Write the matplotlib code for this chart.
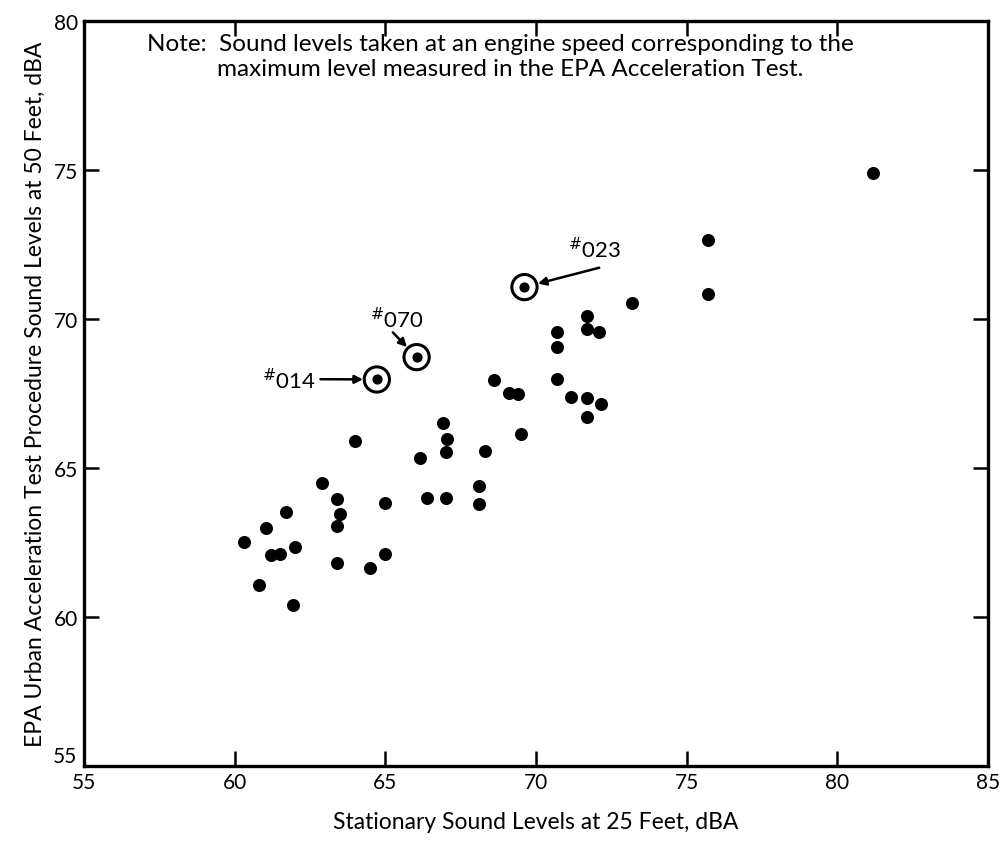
import matplotlib
matplotlib.use("Agg")
import matplotlib.pyplot as plt

plt.rcParams['font.family'] = ['Lato', 'DejaVu Sans']

# stationary level at 25 ft vs EPA urban acceleration level at 50 ft (dBA)
stationary = [81.2, 75.7, 75.7, 73.2, 71.7, 71.7, 72.1, 70.7, 70.7, 70.7,
              71.15, 71.7, 72.15, 71.7, 68.6, 69.1, 69.4, 69.5, 68.3, 68.1,
              68.1, 66.9, 67.05, 67.0, 66.15, 64.0, 62.9, 63.4, 63.5, 63.4,
              65.0, 66.4, 67.0, 61.7, 61.05, 60.3, 62.0, 61.2, 61.5, 63.4,
              64.5, 65.0, 60.8, 61.95]
epa_level = [74.9, 72.65, 70.85, 70.55, 70.1, 69.65, 69.55, 69.55, 69.05, 68.0,
             67.37, 67.35, 67.15, 66.7, 67.95, 67.5, 67.48, 66.15, 65.58, 64.4,
             63.78, 66.5, 65.96, 65.52, 65.32, 65.9, 64.5, 63.97, 63.46, 63.07,
             63.83, 63.98, 63.99, 63.51, 62.97, 62.5, 62.36, 62.08, 62.1, 61.81,
             61.66, 62.12, 61.06, 60.4]

# the three circled vehicles
marked_ids = ["023", "070", "014"]
marked_x = [69.62, 66.04, 64.72]
marked_y = [71.07, 68.72, 67.97]

x_ticks = [55, 60, 65, 70, 75, 80, 85]
y_ticks = [55, 60, 65, 70, 75, 80]

fig = plt.figure(figsize=(10.07, 8.45), dpi=100)
ax = fig.add_axes([0.0834, 0.0923, 0.8976, 0.8817])

ax.scatter(stationary, epa_level, s=70, color='black', zorder=3)
ax.scatter(marked_x, marked_y, s=40, color='black', zorder=3)
ax.scatter(marked_x, marked_y, s=330, facecolors='none', edgecolors='black',
           linewidths=2.2, zorder=3)

ax.set_xlim(55, 85)
ax.set_ylim(55, 80)
ax.set_xticks(x_ticks)
# bottom y label is drawn separately, lifted above the corner
ax.set_yticks(y_ticks, [""] + [str(v) for v in y_ticks[1:]])
ax.tick_params(direction='in', length=11, width=1.8, top=True, right=True,
               labelsize=15, pad=4)
for sp in ax.spines.values():
    sp.set_linewidth(2.4)

ax.annotate(str(y_ticks[0]), xy=(0, y_ticks[0]), xycoords=ax.get_yaxis_transform(),
            xytext=(-5, 7), textcoords='offset points', ha='right', va='center',
            fontsize=15)

ax.set_xlabel("Stationary Sound Levels at 25 Feet, dBA", fontsize=16.5, labelpad=14)
ax.set_ylabel("EPA Urban Acceleration Test Procedure Sound Levels at 50 Feet, dBA",
              fontsize=16.5, labelpad=6)

ax.text(57.1, 79.23, "Note:  Sound levels taken at an engine speed corresponding to the",
        fontsize=17.5, va='center')
ax.text(59.4, 78.4, "maximum level measured in the EPA Acceleration Test.",
        fontsize=17.5, va='center')

# labels and leader arrows
label_pos = [(71.95, 72.35, 'center'), (65.4, 70.0, 'center'), (62.7, 67.98, 'right')]
tails = [(72.1, 71.72), (65.25, 69.55), (62.85, 67.98)]
for name, (lx, ly, ha), (tx, ty), px, py in zip(marked_ids, label_pos, tails,
                                                  marked_x, marked_y):
    ax.text(lx, ly, r"$^{\#}$" + name, fontsize=16, ha=ha, va='center')
    ax.annotate("", xy=(px, py), xytext=(tx, ty),
                arrowprops=dict(arrowstyle='-|>', color='black', lw=1.8,
                                mutation_scale=12, shrinkA=0, shrinkB=10))

fig.savefig("out.png", dpi=100)
